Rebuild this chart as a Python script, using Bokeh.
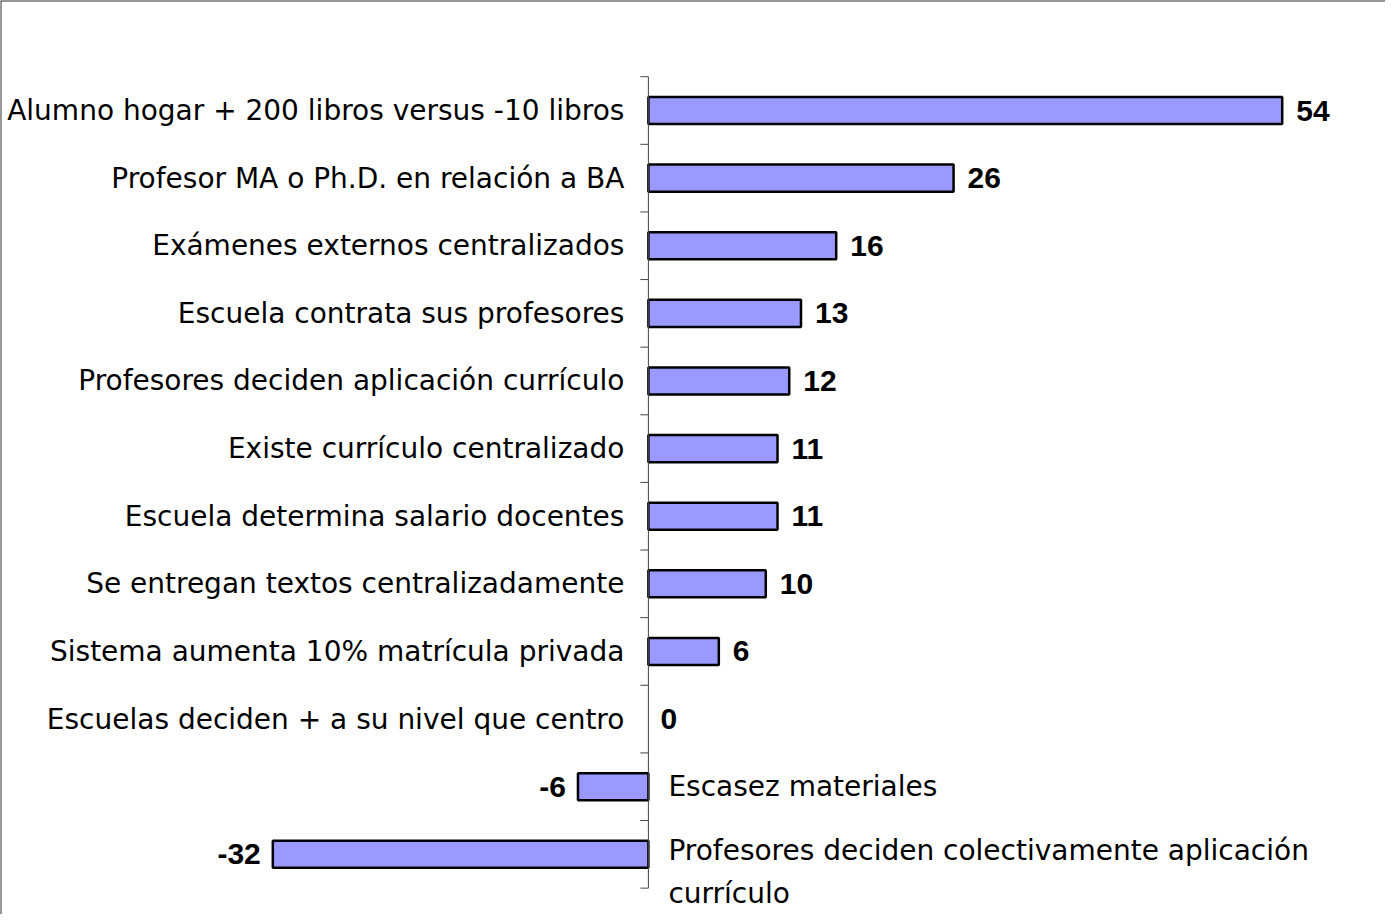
import math
from bokeh.plotting import figure
from bokeh.models import Range1d, ColumnDataSource, Span
from bokeh.core.properties import value
from bokeh.embed import file_html
from bokeh.resources import INLINE

categories = [
    "Alumno hogar + 200 libros versus -10 libros",
    "Profesor MA o Ph.D. en relación a BA",
    "Exámenes externos centralizados",
    "Escuela contrata sus profesores",
    "Profesores deciden aplicación currículo",
    "Existe currículo centralizado",
    "Escuela determina salario docentes",
    "Se entregan textos centralizadamente",
    "Sistema aumenta 10% matrícula privada",
    "Escuelas deciden + a su nivel que centro",
    "Escasez materiales",
    "Profesores deciden colectivamente aplicación\ncurrículo",
]
values = [54, 26, 16, 13, 12, 11, 11, 10, 6, 0, -6, -32]

idx = list(range(len(categories)))
pos = [v >= 0 for v in values]

src = ColumnDataSource(dict(
    y=idx,
    v=values,
    cat=categories,
    lab=[str(v) for v in values],
    bar_line_alpha=[0.0 if v == 0 else 1.0 for v in values],
    cat_align=["right" if p_ else "left" for p_ in pos],
    cat_off=[-24 if p_ else 20 for p_ in pos],
    cat_yoff=[18 if "\n" in c else 0 for c in categories],
    val_align=["left" if p_ else "right" for p_ in pos],
    val_off=[14 if v > 0 else (12 if v == 0 else -12) for v in values],
))

p = figure(width=1385, height=914, output_backend="svg", toolbar_location=None,
           x_range=Range1d(-55.2, 62.8), y_range=Range1d(11.89, -1.627),
           min_border=0, x_axis_location=None, y_axis_location=None)
p.xgrid.visible = False
p.ygrid.visible = False
p.outline_line_color = None
p.background_fill_color = "white"

# frame edges (left, top)
p.add_layout(Span(location=-55.2, dimension="height", line_color="#333333", line_width=2))
p.add_layout(Span(location=-1.627, dimension="width", line_color="#333333", line_width=2))

p.hbar(y="y", left=0, right="v", height=0.4, source=src,
       fill_color="#9999FF", line_color="black", line_width=2.5,
       line_alpha="bar_line_alpha")

# zero axis line and ticks
n = len(categories)
p.segment(x0=[0], y0=[-0.5], x1=[0], y1=[n - 0.5], line_color="#444444", line_width=1)
tick_y = [i - 0.5 for i in range(n + 1)]
p.ray(x=[0] * len(tick_y), y=tick_y, length=8, length_units="screen", angle=math.pi,
      line_color="#444444", line_width=1)

p.text(x=0, y="y", text="cat", source=src, text_align="cat_align", x_offset="cat_off",
       y_offset="cat_yoff", text_baseline="middle", text_font=value("DejaVu Sans"),
       text_font_size="28px", text_color="black", text_line_height=1.3)

p.text(x="v", y="y", text="lab", source=src, text_align="val_align", x_offset="val_off",
       text_baseline="middle", text_font=value("Liberation Sans"), text_font_style="bold",
       text_font_size="30px", text_color="black")

open("out.html", "w").write(file_html(p, INLINE))
